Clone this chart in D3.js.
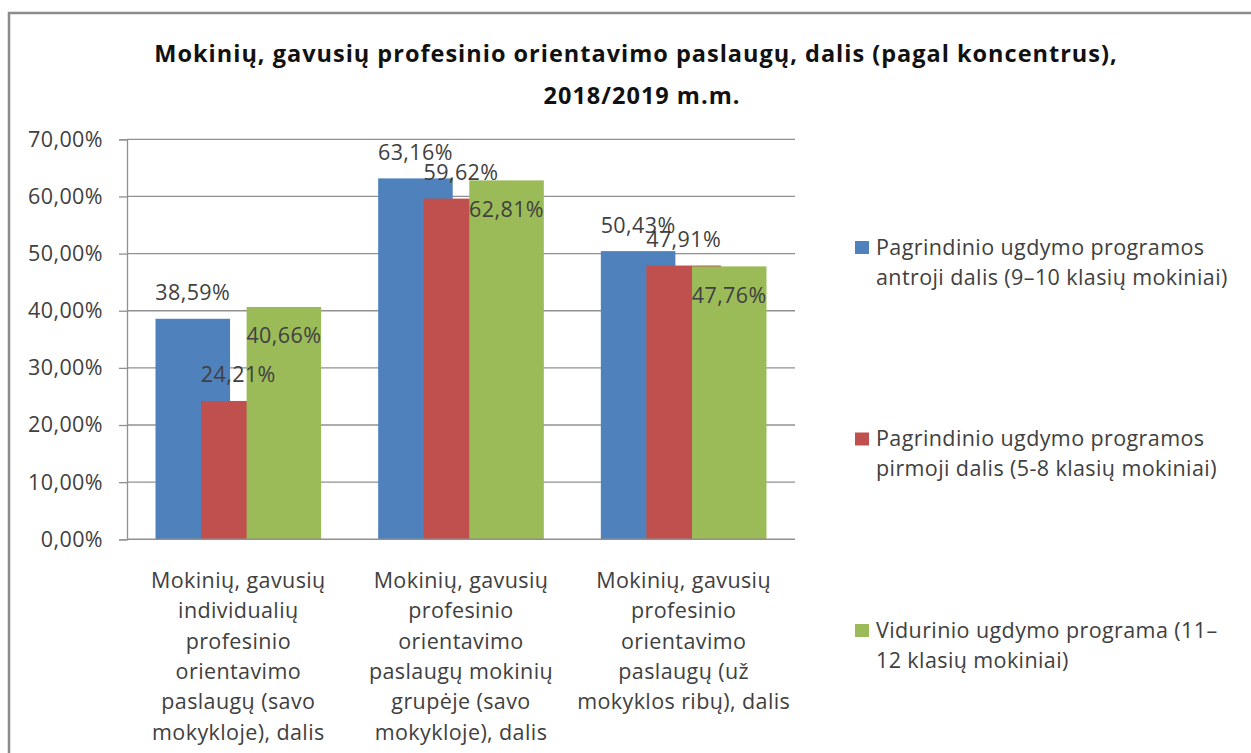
<!DOCTYPE html>
<html>

<head>
    <meta charset="utf-8">
    <title>Mokinių profesinis orientavimas</title>
    <script src="https://d3js.org/d3.v7.min.js"></script>
    <style>
        body { margin: 0; background: #fff; }
        text { font-family: "Open Sans", sans-serif; }
    </style>
</head>

<body>

    <svg width="1251" height="753" id="mainSvg"></svg>
    <script>
        // data
        const categories = ["c1", "c2", "c3"];
        const categoryLines = [
            ["Mokinių, gavusių", "individualių", "profesinio", "orientavimo", "paslaugų (savo", "mokykloje), dalis"],
            ["Mokinių, gavusių", "profesinio", "orientavimo", "paslaugų mokinių", "grupėje (savo", "mokykloje), dalis"],
            ["Mokinių, gavusių", "profesinio", "orientavimo", "paslaugų (už", "mokyklos ribų), dalis"]
        ];
        const seriesNames = [
            ["Pagrindinio ugdymo programos", "antroji dalis (9–10 klasių mokiniai)"],
            ["Pagrindinio ugdymo programos", "pirmoji dalis (5-8 klasių mokiniai)"],
            ["Vidurinio ugdymo programa (11–", "12 klasių mokiniai)"]
        ];
        const antroji = [38.59, 63.16, 50.43];
        const pirmoji = [24.21, 59.62, 47.91];
        const vidurinio = [40.66, 62.81, 47.76];
        const yTicks = [0, 10, 20, 30, 40, 50, 60, 70];
        const titleLines = ["Mokinių, gavusių profesinio orientavimo paslaugų, dalis (pagal koncentrus),", "2018/2019 m.m."];

        const seriesValues = [antroji, pirmoji, vidurinio];
        const colors = ["#4F81BD", "#C0504D", "#9BBB59"];
        const textColor = "#404040";
        const fontSize = 21.5;
        const spacing = 0.4;

        const svg = d3.select("#mainSvg");

        // outer frame
        svg.append("rect")
            .attr("x", 9).attr("y", 13)
            .attr("width", 1270).attr("height", 770)
            .attr("fill", "none")
            .attr("stroke", "#8c8c8c")
            .attr("stroke-width", 2.5);

        // title
        svg.append("g").selectAll("text")
            .data(titleLines).join("text")
            .attr("x", (d, i) => i == 0 ? 636 : 642)
            .attr("y", (d, i) => 62 + i * 42)
            .attr("text-anchor", "middle")
            .attr("font-size", 23.5)
            .attr("letter-spacing", 1)
            .attr("font-weight", "bold")
            .attr("fill", "#111")
            .text(d => d);

        const plot = { left: 127, right: 795, top: 139.3, bottom: 539.3 };

        const y = d3.scaleLinear().domain([0, 70]).range([plot.bottom, plot.top]);
        const x0 = d3.scaleBand().domain(categories)
            .range([plot.left, plot.right])
            .paddingInner(0.256).paddingOuter(0.128);
        const barW = x0.bandwidth() * 0.45;
        const barStep = (x0.bandwidth() - barW) / 2;

        const fmt = v => d3.format(".2f")(v).replace(".", ",") + "%";

        // gridlines
        svg.append("g").selectAll("line")
            .data(yTicks.slice(1)).join("line")
            .attr("x1", plot.left).attr("x2", plot.right)
            .attr("y1", d => y(d)).attr("y2", d => y(d))
            .attr("stroke", "#909090")
            .attr("stroke-width", 1.3);

        // y axis
        const yAxis = svg.append("g")
            .attr("transform", `translate(${plot.left},0)`)
            .call(d3.axisLeft(y).tickValues(yTicks).tickSize(8).tickPadding(16)
                .tickFormat(fmt));
        yAxis.select(".domain").attr("stroke", "#909090").attr("stroke-width", 1.3);
        yAxis.selectAll(".tick line").attr("stroke", "#909090").attr("stroke-width", 1.3);
        yAxis.selectAll(".tick text")
            .attr("font-family", "Open Sans")
            .attr("font-size", fontSize)
            .attr("letter-spacing", spacing)
            .attr("fill", textColor);

        // bars
        seriesValues.forEach((vals, s) => {
            svg.append("g").selectAll("rect")
                .data(vals).join("rect")
                .attr("x", (d, i) => x0(categories[i]) + s * barStep)
                .attr("y", d => y(d))
                .attr("width", barW)
                .attr("height", d => plot.bottom - y(d))
                .attr("fill", colors[s]);
        });

        // x axis line
        svg.append("line")
            .attr("x1", plot.left).attr("x2", plot.right)
            .attr("y1", plot.bottom).attr("y2", plot.bottom)
            .attr("stroke", "#909090")
            .attr("stroke-width", 1.5);

        // data labels
        seriesValues.forEach((vals, s) => {
            svg.append("g").selectAll("text")
                .data(vals).join("text")
                .attr("x", (d, i) => x0(categories[i]) + s * barStep + barW / 2)
                .attr("y", d => y(d) + (s == 2 ? 29 : -26) + 7.5)
                .attr("text-anchor", "middle")
                .attr("font-size", fontSize)
                .attr("letter-spacing", spacing)
                .attr("fill", textColor)
                .text(d => fmt(d));
        });

        // category labels
        categories.forEach((c, i) => {
            svg.append("g").selectAll("text")
                .data(categoryLines[i]).join("text")
                .attr("x", x0(c) + x0.bandwidth() / 2)
                .attr("y", (d, j) => 588 + j * 30.3)
                .attr("text-anchor", "middle")
                .attr("font-size", fontSize)
                .attr("letter-spacing", spacing)
                .attr("fill", textColor)
                .text(d => d);
        });

        // legend
        const legend = svg.append("g");
        seriesNames.forEach((lines, s) => {
            const cy = 247 + s * 191.5;
            legend.append("rect")
                .attr("x", 855).attr("y", cy - 6)
                .attr("width", 14).attr("height", 13)
                .attr("fill", colors[s]);
            legend.append("g").selectAll("text")
                .data(lines).join("text")
                .attr("x", 876)
                .attr("y", (d, j) => cy + 7.5 + j * 30)
                .attr("font-size", fontSize)
                .attr("letter-spacing", spacing)
                .attr("fill", textColor)
                .text(d => d);
        });
    </script>
</body>

</html>
